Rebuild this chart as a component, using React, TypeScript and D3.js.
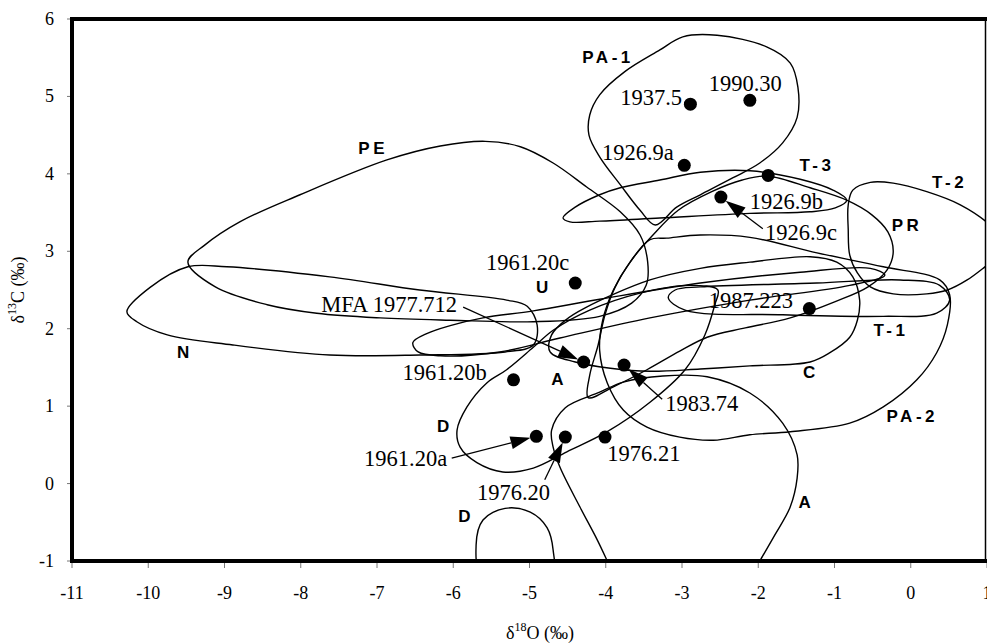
import React from 'react';
import * as d3 from 'd3';

type P = [number, number];

const X_TICKS = [-11, -10, -9, -8, -7, -6, -5, -4, -3, -2, -1, 0, 1];
const Y_TICKS = [-1, 0, 1, 2, 3, 4, 5, 6];

// sample points (δ18O, δ13C)
const sampleNames = ['1937.5', '1990.30', '1926.9a', '1926.9b', '1926.9c', '1987.223', '1961.20c', 'MFA 1977.712', '1983.74', '1961.20b', '1961.20a', '1976.20', '1976.21'];
const sampleO = [-2.89, -2.11, -2.97, -1.87, -2.49, -1.33, -4.40, -4.29, -3.76, -5.21, -4.91, -4.53, -4.01];
const sampleC = [4.90, 4.95, 4.11, 3.98, 3.70, 2.26, 2.59, 1.57, 1.53, 1.34, 0.61, 0.60, 0.60];

// text labels for samples
const sampleLabelText = ['1937.5', '1990.30', '1926.9a', '1926.9b', '1926.9c', '1987.223', '1961.20c', 'MFA 1977.712', '1961.20b', '1961.20a', '1976.20', '1976.21', '1983.74'];
const sampleLabelX = [-3.81, -2.65, -4.05, -2.11, -1.91, -2.65, -5.57, -5.95, -5.56, -6.08, -5.69, -3.98, -3.22];
const sampleLabelY = [4.99, 5.17, 4.28, 3.64, 3.24, 2.37, 2.85, 2.31, 1.43, 0.33, -0.11, 0.39, 1.04];
const sampleLabelAnchor = ['start', 'start', 'start', 'start', 'start', 'start', 'start', 'end', 'end', 'end', 'start', 'start', 'start'];

// arrows: from label to sample
const arrowFromX = [-5.87, -3.26, -1.94, -6.02, -4.80];
const arrowFromY = [2.28, 1.09, 3.29, 0.33, 0.05];
const arrowToSample = ['MFA 1977.712', '1983.74', '1926.9c', '1961.20a', '1976.20'];

// group labels
const groupNames = ['PA-1', 'PE', 'T-3', 'T-2', 'PR', 'U', 'N', 'A', 'C', 'T-1', 'PA-2', 'D', 'D', 'A'];
const groupX = [-3.97, -7.05, -1.23, 0.51, -0.05, -4.81, -9.52, -4.61, -1.31, -0.26, 0.02, -6.11, -5.83, -1.37];
const groupY = [5.50, 4.33, 4.11, 3.89, 3.33, 2.53, 1.69, 1.34, 1.44, 1.98, 0.86, 0.74, -0.43, -0.25];

// field outlines (closed curves)
const fieldPA1: P[] = [[-3.29, 5.60], [-2.99, 5.77], [-2.54, 5.79], [-1.89, 5.64], [-1.58, 5.43], [-1.48, 5.12], [-1.49, 4.73], [-1.68, 4.40], [-1.98, 4.14], [-2.33, 3.95], [-2.76, 3.73], [-3.07, 3.57], [-3.35, 3.34], [-3.55, 3.53], [-3.81, 3.86], [-4.08, 4.22], [-4.22, 4.50], [-4.21, 4.76], [-4.08, 5.02], [-3.75, 5.32]];
const fieldPE: P[] = [[-9.48, 2.86], [-9.26, 3.08], [-8.80, 3.38], [-8.01, 3.73], [-6.87, 4.18], [-6.17, 4.36], [-5.58, 4.42], [-5.12, 4.35], [-4.69, 4.14], [-4.25, 3.83], [-3.81, 3.51], [-3.55, 3.21], [-3.45, 2.86], [-3.47, 2.56], [-3.66, 2.33], [-4.08, 2.16], [-4.95, 2.09], [-6.04, 2.11], [-6.96, 2.14], [-7.79, 2.20], [-8.44, 2.31], [-9.12, 2.54]];
const fieldN: P[] = [[-10.28, 2.22], [-9.98, 2.53], [-9.48, 2.80], [-8.97, 2.80], [-7.62, 2.67], [-6.44, 2.50], [-5.30, 2.37], [-5.03, 2.29], [-4.90, 2.05], [-4.95, 1.79], [-5.32, 1.70], [-6.44, 1.66], [-7.62, 1.66], [-8.89, 1.79], [-9.75, 1.92], [-10.15, 2.09]];
const fieldU: P[] = [[-6.53, 1.82], [-6.34, 1.94], [-6.04, 2.04], [-5.61, 2.14], [-4.95, 2.23], [-4.08, 2.38], [-2.76, 2.59], [-1.45, 2.73], [-0.53, 2.78], [-0.34, 2.69], [-0.80, 2.56], [-2.11, 2.37], [-3.42, 2.14], [-4.60, 1.88], [-5.39, 1.70], [-6.17, 1.65], [-6.46, 1.70]];
const fieldC: P[] = [[-4.27, 2.27], [-3.42, 2.63], [-2.76, 2.78], [-2.11, 2.86], [-1.32, 2.93], [-0.97, 2.86], [-0.76, 2.67], [-0.67, 2.37], [-0.70, 2.11], [-0.80, 1.89], [-1.06, 1.69], [-1.32, 1.57], [-2.11, 1.52], [-2.76, 1.48], [-3.42, 1.45], [-3.94, 1.49], [-4.40, 1.57], [-4.73, 1.70], [-4.71, 1.92], [-4.53, 2.11]];
const fieldT3: P[] = [[-4.56, 3.43], [-4.40, 3.57], [-4.08, 3.73], [-3.81, 3.82], [-3.29, 3.92], [-2.76, 4.02], [-2.11, 4.04], [-1.45, 3.93], [-1.02, 3.79], [-0.84, 3.66], [-0.99, 3.56], [-1.32, 3.51], [-2.11, 3.49], [-3.29, 3.43], [-4.08, 3.39], [-4.47, 3.38]];
const fieldPA2: P[] = [[-3.42, 3.15], [-3.20, 3.17], [-2.76, 3.21], [-2.11, 3.18], [-1.23, 2.98], [-0.36, 2.80], [0.38, 2.63], [0.51, 2.44], [0.48, 2.05], [0.34, 1.69], [0.08, 1.34], [-0.36, 0.99], [-0.80, 0.78], [-1.58, 0.67], [-2.11, 0.63], [-2.59, 0.56], [-3.03, 0.60], [-3.46, 0.73], [-3.77, 0.95], [-3.98, 1.30], [-4.08, 1.72], [-4.04, 2.11], [-3.90, 2.50], [-3.68, 2.86]];
const fieldA: P[] = [[-4.71, 0.69], [-4.53, 0.98], [-4.08, 1.18], [-3.77, 1.31], [-3.25, 1.39], [-2.67, 1.38], [-2.11, 1.17], [-1.68, 0.78], [-1.49, 0.37], [-1.49, 0.07], [-1.58, -0.30], [-1.78, -0.66], [-1.98, -1.00], [-2.24, -1.44], [-3.03, -1.70], [-3.81, -1.37], [-3.98, -1.00], [-4.11, -0.73], [-4.34, -0.30], [-4.60, 0.21], [-4.69, 0.47]];
const fieldD1: P[] = [[-5.95, 0.69], [-5.82, 0.99], [-5.56, 1.30], [-5.30, 1.47], [-4.95, 1.76], [-4.69, 1.98], [-4.21, 2.24], [-3.55, 2.46], [-2.90, 2.56], [-2.53, 2.50], [-2.57, 2.31], [-2.70, 1.92], [-2.96, 1.47], [-3.42, 1.05], [-3.98, 0.67], [-4.51, 0.41], [-4.95, 0.20], [-5.35, 0.15], [-5.69, 0.27], [-5.91, 0.47]];
const fieldD2: P[] = [[-5.62, -1.18], [-5.70, -0.79], [-5.61, -0.47], [-5.32, -0.32], [-4.99, -0.37], [-4.77, -0.57], [-4.69, -0.86], [-4.71, -1.18]];
const fieldPR: P[] = [[-1.87, 3.97], [-1.32, 3.82], [-0.84, 3.66], [-0.51, 3.47], [-0.30, 3.25], [-0.23, 2.99], [-0.31, 2.76], [-0.56, 2.54], [-0.99, 2.35], [-1.58, 2.14], [-2.17, 2.01], [-2.67, 1.89], [-3.03, 1.71], [-3.46, 1.47], [-3.90, 1.25], [-4.23, 1.11], [-4.21, 1.40], [-4.10, 1.79], [-4.01, 2.18], [-3.88, 2.53], [-3.66, 2.89], [-3.39, 3.20], [-3.05, 3.53], [-2.61, 3.77], [-2.21, 3.92]];
const fieldT1: P[] = [[-3.18, 2.40], [-2.96, 2.24], [-1.68, 2.18], [-0.36, 2.16], [0.34, 2.20], [0.51, 2.37], [0.38, 2.56], [-0.14, 2.63], [-1.23, 2.59], [-2.76, 2.54], [-3.09, 2.50]];
const fieldT2: P[] = [[-0.82, 3.60], [-0.76, 3.79], [-0.53, 3.89], [-0.23, 3.88], [0.21, 3.77], [0.65, 3.60], [1.04, 3.34], [1.30, 3.04], [1.04, 2.85], [0.74, 2.63], [0.48, 2.50], [0.21, 2.45], [-0.23, 2.45], [-0.53, 2.54], [-0.70, 2.72], [-0.80, 2.95], [-0.82, 3.28]];

const fields = [fieldPA1, fieldPE, fieldN, fieldU, fieldC, fieldT3, fieldPA2, fieldA, fieldD1, fieldD2, fieldPR, fieldT1, fieldT2];

const W = 987;
const H = 643;
const LEFT = 72;
const RIGHT = 987;
const TOP = 19;
const BOTTOM = 561;

export default function App() {
  const x = d3.scaleLinear().domain([-11, 1]).range([LEFT, RIGHT]);
  const y = d3.scaleLinear().domain([-1, 6]).range([BOTTOM, TOP]);
  const line = d3
    .line<P>()
    .x((d) => x(d[0]))
    .y((d) => y(d[1]))
    .curve(d3.curveCatmullRomClosed.alpha(0.5));

  const serif = "'Liberation Serif', 'Times New Roman', serif";
  const sans = "'Liberation Sans', Arial, sans-serif";

  const samplePos = (name: string): [number, number] => {
    const i = sampleNames.indexOf(name);
    return [x(sampleO[i]), y(sampleC[i])];
  };

  const arrows = arrowToSample.map((name, i) => {
    const [tx, ty] = samplePos(name);
    const sx = x(arrowFromX[i]);
    const sy = y(arrowFromY[i]);
    const dx = tx - sx;
    const dy = ty - sy;
    const len = Math.sqrt(dx * dx + dy * dy);
    const ux = dx / len;
    const uy = dy / len;
    const tipX = tx - ux * 6;
    const tipY = ty - uy * 6;
    const hl = 20;
    const hw = 6.5;
    const bx = tipX - ux * hl;
    const by = tipY - uy * hl;
    const p1 = [bx - uy * hw, by + ux * hw];
    const p2 = [bx + uy * hw, by - ux * hw];
    return { sx, sy, bx, by, head: `M${tipX},${tipY}L${p1[0]},${p1[1]}L${p2[0]},${p2[1]}Z` };
  });

  return (
    <svg width={W} height={H} style={{ position: 'absolute', left: 0, top: 0, background: '#fff' }}>
      <defs>
        <clipPath id="plotClip">
          <rect x={LEFT} y={TOP} width={RIGHT - 1 - LEFT} height={BOTTOM - TOP} />
        </clipPath>
      </defs>
      <rect x={0} y={0} width={W} height={H} fill="#fff" />

      <g clipPath="url(#plotClip)">
        {fields.map((f, i) => (
          <path key={i} d={line(f) || ''} fill="none" stroke="#000" strokeWidth={1.4} />
        ))}
      </g>

      {arrows.map((a, i) => (
        <g key={i}>
          <line x1={a.sx} y1={a.sy} x2={a.bx} y2={a.by} stroke="#000" strokeWidth={1.3} />
          <path d={a.head} fill="#000" />
        </g>
      ))}

      {sampleNames.map((n, i) => (
        <circle key={n} cx={x(sampleO[i])} cy={y(sampleC[i])} r={6.5} fill="#000" />
      ))}

      {sampleLabelText.map((t, i) => (
        <text
          key={t}
          x={x(sampleLabelX[i])}
          y={y(sampleLabelY[i])}
          dominantBaseline="central"
          textAnchor={sampleLabelAnchor[i] as any}
          fontFamily={serif}
          fontSize={22.5}
          fill="#000"
        >
          {t}
        </text>
      ))}

      {groupNames.map((t, i) => (
        <text
          key={i}
          x={x(groupX[i])}
          y={y(groupY[i])}
          dominantBaseline="central"
          textAnchor="middle"
          fontFamily={sans}
          fontSize={17}
          fontWeight="bold"
          letterSpacing={3.5}
          fill="#000"
        >
          {t}
        </text>
      ))}

      {X_TICKS.map((t) => (
        <line key={'xt' + t} x1={x(t)} x2={x(t)} y1={BOTTOM} y2={BOTTOM + 7} stroke="#777" strokeWidth={1} />
      ))}
      {Y_TICKS.map((t) => (
        <line key={'yt' + t} x1={LEFT - 5} x2={LEFT} y1={y(t)} y2={y(t)} stroke="#777" strokeWidth={1} />
      ))}

      <line x1={RIGHT - 1.5} x2={RIGHT - 1.5} y1={TOP} y2={BOTTOM} stroke="#000" strokeWidth={1.5} />
      <line x1={LEFT} x2={RIGHT} y1={TOP} y2={TOP} stroke="#000" strokeWidth={4} />
      <line x1={LEFT} x2={RIGHT} y1={BOTTOM} y2={BOTTOM} stroke="#000" strokeWidth={4} />
      <line x1={LEFT} x2={LEFT} y1={TOP - 2} y2={BOTTOM + 2} stroke="#000" strokeWidth={4} />

      {X_TICKS.map((t) => (
        <text key={'xl' + t} x={x(t)} y={BOTTOM + 32} textAnchor="middle" dominantBaseline="central" fontFamily={serif} fontSize={18}>
          {t}
        </text>
      ))}
      {Y_TICKS.map((t) => (
        <text key={'yl' + t} x={LEFT - 18} y={y(t)} textAnchor="end" dominantBaseline="central" fontFamily={serif} fontSize={18}>
          {t}
        </text>
      ))}

      <text x={540} y={633} textAnchor="middle" dominantBaseline="central" fontFamily={serif} fontSize={18}>
        δ<tspan dy={-6} fontSize={12}>18</tspan>
        <tspan dy={6}>O (‰)</tspan>
      </text>
      <text transform="translate(18,290) rotate(-90)" textAnchor="middle" dominantBaseline="central" fontFamily={serif} fontSize={18}>
        δ<tspan dy={-6} fontSize={12}>13</tspan>
        <tspan dy={6}>C (‰)</tspan>
      </text>
    </svg>
  );
}
